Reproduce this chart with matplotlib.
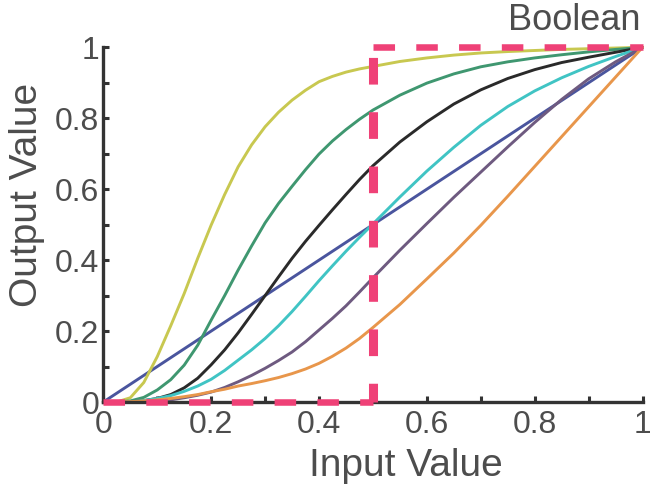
import matplotlib
matplotlib.use("Agg")
import matplotlib.pyplot as plt
from matplotlib.ticker import MultipleLocator, FixedLocator, FixedFormatter

plt.rcParams["font.family"] = ["Liberation Sans", "DejaVu Sans"]
plt.rcParams["lines.scale_dashes"] = False

# =========================
# DATA
# =========================

# finer steps below 0.5 where the curves bend the most
x_vals = [0.0, 0.025, 0.05, 0.075, 0.1, 0.125, 0.15, 0.175, 0.2, 0.225, 0.25,
          0.275, 0.3, 0.325, 0.35, 0.375, 0.4, 0.425, 0.45, 0.475, 0.5,
          0.55, 0.6, 0.65, 0.7, 0.75, 0.8, 0.85, 0.9, 0.95, 1.0]

linear_y = [0.0, 0.025, 0.05, 0.075, 0.1, 0.125, 0.15, 0.175, 0.2, 0.225, 0.25,
            0.275, 0.3, 0.325, 0.35, 0.375, 0.4, 0.425, 0.45, 0.475, 0.5,
            0.55, 0.6, 0.65, 0.7, 0.75, 0.8, 0.85, 0.9, 0.95, 1.0]
yellow_y = [0.0, 0.0, 0.012, 0.055, 0.128, 0.215, 0.306, 0.405, 0.499, 0.585, 0.663,
            0.725, 0.776, 0.817, 0.851, 0.879, 0.903, 0.918, 0.930, 0.939, 0.946,
            0.960, 0.970, 0.978, 0.984, 0.988, 0.991, 0.994, 0.996, 0.998, 1.0]
green_y = [0.0, 0.0, 0.003, 0.013, 0.034, 0.063, 0.104, 0.160, 0.231, 0.300, 0.372,
           0.440, 0.505, 0.560, 0.608, 0.655, 0.699, 0.736, 0.768, 0.797, 0.823,
           0.865, 0.899, 0.925, 0.945, 0.959, 0.970, 0.979, 0.987, 0.994, 1.0]
black_y = [0.0, 0.0, 0.001, 0.004, 0.010, 0.021, 0.040, 0.067, 0.105, 0.147, 0.195,
           0.247, 0.300, 0.353, 0.405, 0.453, 0.498, 0.542, 0.585, 0.627, 0.666,
           0.733, 0.790, 0.840, 0.880, 0.912, 0.937, 0.957, 0.972, 0.986, 1.0]
cyan_y = [0.0, 0.0, 0.001, 0.004, 0.010, 0.018, 0.030, 0.045, 0.064, 0.089, 0.118,
          0.147, 0.179, 0.215, 0.255, 0.298, 0.342, 0.384, 0.425, 0.464, 0.502,
          0.578, 0.651, 0.718, 0.780, 0.833, 0.877, 0.914, 0.946, 0.974, 1.0]
purple_y = [0.0, 0.0, 0.0, 0.001, 0.002, 0.006, 0.012, 0.019, 0.028, 0.041, 0.057,
            0.075, 0.095, 0.117, 0.141, 0.170, 0.203, 0.236, 0.271, 0.310, 0.350,
            0.428, 0.503, 0.577, 0.648, 0.719, 0.788, 0.853, 0.911, 0.959, 1.0]
orange_y = [0.0, 0.0, 0.001, 0.003, 0.006, 0.010, 0.015, 0.021, 0.029, 0.036, 0.045,
            0.052, 0.060, 0.069, 0.080, 0.093, 0.109, 0.129, 0.152, 0.179, 0.210,
            0.275, 0.347, 0.420, 0.498, 0.580, 0.664, 0.748, 0.832, 0.916, 1.0]

# boolean step (threshold at 0.5)
bool_x = [0.0, 0.5, 0.5, 1.0]
bool_y = [0.0, 0.0, 1.0, 1.0]

tick_vals = [0, 0.2, 0.4, 0.6, 0.8, 1]
tick_labels = ["0", "0.2", "0.4", "0.6", "0.8", "1"]

series = [
    (linear_y, "#4a559e"),
    (yellow_y, "#c8c850"),
    (green_y, "#3f9770"),
    (black_y, "#2a2a2a"),
    (cyan_y, "#40c4c4"),
    (purple_y, "#6e5a80"),
    (orange_y, "#e8964b"),
]

# =========================
# FIGURE
# =========================

fig = plt.figure(figsize=(6.5, 5.01), dpi=100)
ax = fig.add_axes([0.159, 0.1976, 0.8295, 0.708])

for ys, color in series:
    ax.plot(x_vals, ys, color=color, lw=2.1, clip_on=False,
            solid_capstyle="round", solid_joinstyle="round")

pink = "#ef4177"
for i in range(len(bool_x) - 1):
    xs = bool_x[i:i + 2]
    ys = bool_y[i:i + 2]
    if xs[0] == xs[1]:
        # vertical piece: wider and longer dashes in the reference
        ax.plot(xs, ys, color=pink, lw=6.5, ls=(5.7, (19.2, 19.9)), clip_on=False, zorder=5)
    else:
        ax.plot(xs, ys, color=pink, lw=4.7, ls=(0, (15.5, 15.3)), clip_on=False, zorder=5)

ax.set_xlim(0, 1)
ax.set_ylim(0, 1)

for side in ["top", "right"]:
    ax.spines[side].set_visible(False)
for side in ["left", "bottom"]:
    ax.spines[side].set_color("#333333")
    ax.spines[side].set_linewidth(2.4)

for axis in [ax.xaxis, ax.yaxis]:
    axis.set_major_locator(FixedLocator(tick_vals))
    axis.set_major_formatter(FixedFormatter(tick_labels))
    axis.set_minor_locator(MultipleLocator(0.1))

ax.tick_params(which="both", direction="in", length=4, width=2.2, color="#333333")
ax.tick_params(axis="both", which="major", labelsize=23, labelcolor="#4d4d4d")
ax.tick_params(axis="x", pad=6)
ax.tick_params(axis="y", pad=3)

fig.text(0.625, 0.05, "Input Value", fontsize=28, color="#4d4d4d", ha="center", va="baseline")
fig.text(0.042, 0.611, "Output Value", fontsize=28, color="#4d4d4d", ha="center", va="center",
         rotation=90)
fig.text(0.986, 0.94, "Boolean", fontsize=26, color="#4d4d4d", ha="right", va="baseline")

fig.savefig("out.png", dpi=100, facecolor="white")
